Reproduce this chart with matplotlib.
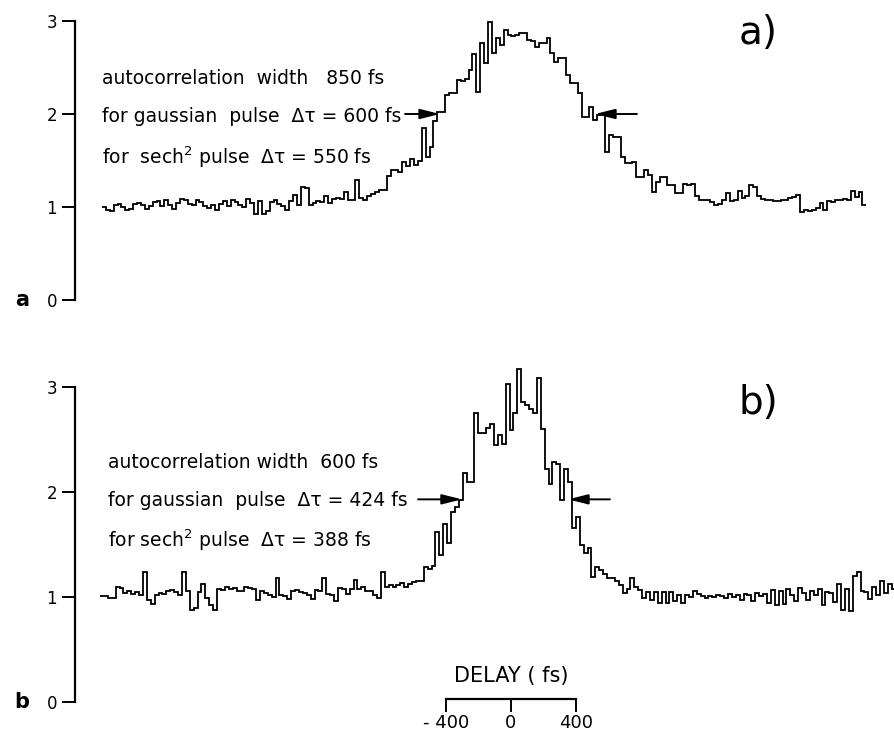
import numpy as np
import matplotlib
matplotlib.use("Agg")
import matplotlib.pyplot as plt

plt.rcParams['font.family'] = ['DejaVu Sans']
plt.rcParams['mathtext.fontset'] = 'dejavusans'

# ---------------- data ----------------
bin_fs = 24.0            # delay step of the recorded traces (fs)
start_a = -2517.0        # first delay of trace a (fs)
start_b = -2529.0        # first delay of trace b (fs)

signal_a = [
    1.00, 0.97, 0.96, 1.02, 1.03, 1.00, 0.97, 0.98, 1.03, 1.04,
    1.02, 0.98, 1.01, 1.05, 1.06, 1.01, 1.08, 1.02, 0.98, 1.04,
    1.09, 1.07, 1.03, 1.02, 1.08, 1.05, 1.01, 0.99, 1.02, 0.97,
    1.03, 1.06, 1.01, 1.07, 1.05, 1.02, 1.00, 1.09, 1.04, 0.93,
    1.06, 0.92, 0.96, 1.05, 1.08, 1.03, 1.01, 0.97, 1.06, 1.13,
    1.02, 1.21, 1.20, 1.02, 1.04, 1.06, 1.05, 1.12, 1.04, 1.09,
    1.10, 1.09, 1.16, 1.08, 1.07, 1.29, 1.10, 1.07, 1.12, 1.14,
    1.16,
    1.18, 1.18, 1.33, 1.40, 1.40, 1.38, 1.48, 1.44, 1.52, 1.45,
    1.50, 1.85, 1.54, 1.64, 1.93, 2.02, 2.02, 2.20, 2.23, 2.23,
    2.37, 2.36, 2.38, 2.47, 2.64, 2.24, 2.76, 2.55, 2.99, 2.66,
    2.82, 2.74, 2.90, 2.85, 2.84, 2.85, 2.87, 2.87, 2.80, 2.79,
    2.72, 2.76, 2.76, 2.82, 2.66, 2.56, 2.60, 2.60, 2.42, 2.33,
    2.33, 2.23, 1.97, 1.97, 2.08, 1.94, 1.99, 2.00, 1.59, 1.77,
    1.75, 1.75, 1.54, 1.47, 1.47, 1.48, 1.32, 1.32, 1.40, 1.34,
    1.16, 1.27, 1.32, 1.32, 1.24, 1.24, 1.15,
    1.15, 1.25, 1.24, 1.25, 1.12, 1.08, 1.07, 1.08, 1.05, 1.02,
    1.03, 1.08, 1.15, 1.06, 1.08, 1.17, 1.10, 1.12, 1.24, 1.21,
    1.12, 1.09, 1.08, 1.07, 1.06, 1.06, 1.07, 1.08, 1.10, 1.11,
    1.13, 0.95, 0.97, 0.96, 0.97, 0.99, 1.04, 0.97, 1.06, 1.05,
    1.08, 1.07, 1.09, 1.08, 1.17, 1.11, 1.16, 1.02,
]

signal_b = [
    1.01, 1.01, 0.99, 0.99, 1.10, 1.09, 1.04, 1.06, 1.03, 1.05,
    1.02, 1.24, 0.97, 0.93, 1.02, 1.04, 1.03, 1.06, 1.07, 1.05,
    1.02, 1.24, 1.06, 0.88, 0.90, 1.05, 1.12, 0.99, 0.92, 0.88,
    1.08, 1.07, 1.10, 1.08, 1.09, 1.06, 1.06, 1.10, 1.09, 1.08,
    0.97, 1.06, 1.04, 1.02, 1.00, 1.18, 1.02, 1.01, 0.98, 1.06,
    1.07, 1.05, 1.04, 1.02, 0.98, 1.07, 1.06, 1.18, 1.03, 1.02,
    0.96, 1.09, 1.08, 1.03, 1.08, 1.16, 1.08, 1.10, 1.06, 1.06,
    1.02, 0.99, 1.24, 1.10, 1.11, 1.10, 1.11, 1.13, 1.10, 1.12,
    1.14, 1.15, 1.15,
    1.29, 1.27, 1.30, 1.62, 1.40, 1.70, 1.51, 1.81, 1.86, 1.92,
    2.18, 2.10, 2.10, 2.75, 2.56, 2.56, 2.61, 2.65, 2.45, 2.54,
    2.46, 3.03, 2.59, 2.75, 3.17, 2.86, 2.83, 2.79, 2.75, 3.09,
    2.60, 2.22, 2.08, 2.29, 2.27, 1.92, 2.22, 2.10, 1.66, 1.76,
    1.50, 1.42, 1.47, 1.19, 1.29, 1.26, 1.22, 1.18, 1.18, 1.15,
    1.11, 1.04, 1.08, 1.18, 1.10, 1.07, 0.99, 1.05, 0.97, 1.05,
    0.94,
    1.05, 0.94, 1.05, 0.96, 1.02, 0.94, 1.02, 1.00, 1.06, 1.03,
    1.01, 0.99, 1.01, 1.00, 1.02, 1.01, 0.99, 1.03, 1.00, 1.02,
    0.97, 1.03, 1.02, 0.96, 1.04, 1.01, 1.03, 0.94, 1.07, 0.92,
    1.06, 0.93, 1.08, 1.02, 0.96, 1.09, 1.04, 0.97, 1.06, 1.02,
    1.08, 0.92, 1.05, 1.04, 0.95, 1.12, 0.88, 1.08, 0.87, 1.20,
    1.24, 1.06, 1.05, 0.98, 1.10, 1.02, 1.15, 1.04, 1.12, 1.08,
]

y_ticks = [0, 1, 2, 3]
y_ticklabels = ["0", "1", "2", "3"]
scale_ticks = [-400, 0, 400]
scale_ticklabels = ["- 400", "0", "400"]

text_a = ["autocorrelation  width   850 fs",
          "for gaussian  pulse  \u0394\u03c4 = 600 fs",
          "for  sech$^{2}$ pulse  \u0394\u03c4 = 550 fs"]
text_b = ["autocorrelation width  600 fs",
          "for gaussian  pulse  \u0394\u03c4 = 424 fs",
          "for sech$^{2}$ pulse  \u0394\u03c4 = 388 fs"]

# FWHM markers: (tail delay, tip delay, level)
arrows_a = [(-652, -437, 2.0), (775, 517, 2.0)]
arrows_b = [(-572, -302, 1.93), (609, 351, 1.93)]

# ---------------- figure ----------------
W, H = 895, 738
fig = plt.figure(figsize=(W / 100, H / 100), dpi=100)
fig.patch.set_facecolor("white")

xlim = (-2683, 2363)


def style_axis(ax, ytop):
    ax.set_xlim(*xlim)
    ax.set_ylim(0, ytop)
    for s in ("top", "right", "bottom"):
        ax.spines[s].set_visible(False)
    ax.spines["left"].set_bounds(0, 3)
    ax.spines["left"].set_linewidth(1.6)
    ax.set_xticks([])
    ax.set_yticks(y_ticks)
    ax.set_yticklabels(y_ticklabels)
    ax.tick_params(axis="y", direction="out", length=9.5, width=1.4,
                   pad=3.5, labelsize=12)
    ax.patch.set_alpha(0)


def draw_trace(ax, start, vals):
    vals = np.asarray(vals)
    edges = start + bin_fs * np.arange(len(vals) + 1)
    ax.stairs(vals, edges, baseline=None, color="black", lw=1.3)


def draw_arrows(ax, arrows):
    for tail, tip, lev in arrows:
        ax.annotate("", xy=(tip, lev), xytext=(tail, lev),
                    arrowprops=dict(arrowstyle="-|>,head_length=0.8,head_width=0.2",
                                    mutation_scale=15, color="black", lw=1.4,
                                    shrinkA=0, shrinkB=0))


ax_a = fig.add_axes([75 / W, 438 / H, 820 / W, 297.6 / H])
style_axis(ax_a, 3.2)
draw_trace(ax_a, start_a, signal_a)
draw_arrows(ax_a, arrows_a)

ax_b = fig.add_axes([75 / W, 36 / H, 820 / W, 351.75 / H])
style_axis(ax_b, 3.35)
draw_trace(ax_b, start_b, signal_b)
draw_arrows(ax_b, arrows_b)

# annotation texts
for txt, ypx in zip(text_a, [78, 117, 157]):
    fig.text(102 / W, 1 - ypx / H, txt, va="center", ha="left", fontsize=13.5)
for txt, ypx in zip(text_b, [462, 500, 540]):
    fig.text(108 / W, 1 - ypx / H, txt, va="center", ha="left", fontsize=13.5)

fig.text(758 / W, 1 - 33 / H, "a)", ha="center", va="center", fontsize=28)
fig.text(758 / W, 1 - 403 / H, "b)", ha="center", va="center", fontsize=28)

fig.text(22 / W, 1 - 300 / H, "a", ha="center", va="center", fontsize=15,
         fontweight="bold")
fig.text(22 / W, 1 - 702 / H, "b", ha="center", va="center", fontsize=15,
         fontweight="bold")

# delay scale bar
ax_s = fig.add_axes([446 / W, 39 / H, 130 / W, 0.001])
ax_s.set_xlim(-400, 400)
ax_s.set_ylim(0, 1)
for s in ("top", "right", "left"):
    ax_s.spines[s].set_visible(False)
ax_s.spines["bottom"].set_linewidth(1.6)
ax_s.set_yticks([])
ax_s.set_xticks(scale_ticks)
ax_s.set_xticklabels(scale_ticklabels)
ax_s.tick_params(axis="x", direction="out", length=9, width=1.4, pad=1.5,
                 labelsize=13)
ax_s.patch.set_alpha(0)
ax_s.set_title("DELAY ( fs)", fontsize=15, pad=12)

fig.savefig("out.png", dpi=100)
